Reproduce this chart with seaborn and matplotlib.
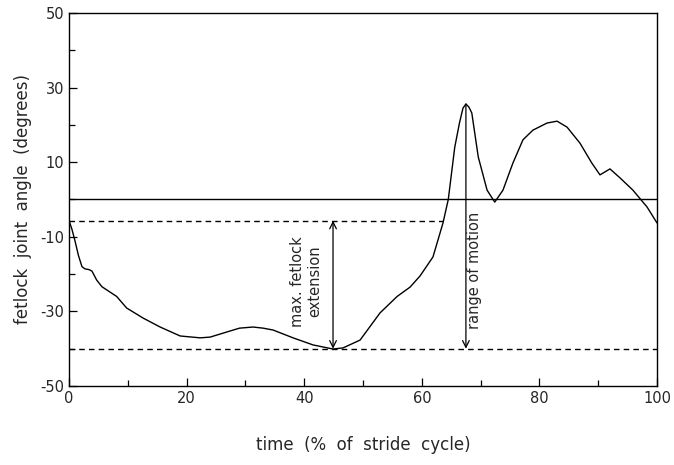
import matplotlib
matplotlib.use("Agg")
import matplotlib.pyplot as plt
import seaborn as sns
import pandas as pd
from matplotlib.ticker import MultipleLocator

# data
time_pct = [0, 0.5, 1.0, 1.6, 2.2, 2.7, 3.4, 3.9, 4.7, 5.6, 8.1, 9.8, 12.6, 15.5, 18.9,
            22.3, 24.0, 26.9, 29.0, 31.3, 33.0, 34.7, 38.1, 41.5, 44.9, 46.6, 49.5,
            52.9, 55.8, 58.0, 59.7, 61.9, 63.6, 64.5, 65.6, 66.4, 67.0, 67.5, 68.0,
            68.5, 69.6, 71.1, 72.4, 73.8, 75.5, 77.2, 78.9, 81.3, 83.0, 84.7, 86.9,
            88.9, 90.3, 92.0, 93.7, 95.9, 98.3, 100]
angle_deg = [-5.7, -8.0, -11.0, -15.0, -18.0, -18.6, -18.8, -19.2, -21.6, -23.4, -26.0,
             -29.1, -31.8, -34.2, -36.6, -37.1, -36.9, -35.5, -34.5, -34.2, -34.5, -35.0,
             -37.1, -39.0, -40.1, -39.8, -37.7, -30.4, -26.0, -23.5, -20.5, -15.4,
             -6.3, 0.0, 14.0, 20.5, 24.5, 25.6, 24.8, 23.2, 11.4, 2.5, -0.7, 2.5, 9.8,
             16.0, 18.6, 20.5, 21.0, 19.4, 15.1, 9.8, 6.6, 8.2, 5.8, 2.5, -2.0, -6.3]
max_extension_level = -5.7
min_level = -40.0
peak_time, peak_angle = 67.5, 25.6
min_time = 44.9

df = pd.DataFrame({"time": time_pct, "angle": angle_deg})

sns.set_theme(style="ticks")
plt.rcParams["font.family"] = ["DejaVu Sans"]
plt.rcParams["axes.unicode_minus"] = False

fig = plt.figure(figsize=(6.74, 4.65), dpi=100)
ax = fig.add_axes([0.1024, 0.170, 0.8724, 0.802])

sns.lineplot(data=df, x="time", y="angle", ax=ax, color="black", linewidth=1.0,
             sort=False, estimator=None)

ax.axhline(0, color="black", linewidth=1.0)
ax.plot([0, 63.6], [max_extension_level, max_extension_level], color="black",
        linewidth=1.0, linestyle=(0, (4, 3)))
ax.plot([0, 100], [min_level, min_level], color="black", linewidth=1.0,
        linestyle=(0, (4, 3)))

ax.annotate("", xy=(min_time, min_level), xytext=(min_time, max_extension_level),
            arrowprops=dict(arrowstyle="<->", color="black", lw=0.9,
                            shrinkA=0, shrinkB=0, mutation_scale=12))
ax.text(40.3, -22.0, "max. fetlock\nextension", rotation=90, ha="center",
        va="center", fontsize=10.5, linespacing=1.2)

ax.annotate("", xy=(peak_time, min_level), xytext=(peak_time, peak_angle),
            arrowprops=dict(arrowstyle="->", color="black", lw=0.9,
                            shrinkA=0, shrinkB=0, mutation_scale=12))
ax.text(69.0, -19, "range of motion", rotation=90, ha="center", va="center",
        fontsize=10.5)

ax.set_xlim(0, 100)
ax.set_ylim(-50, 50)
ax.xaxis.set_major_locator(MultipleLocator(20))
ax.xaxis.set_minor_locator(MultipleLocator(10))
ax.set_yticks([-50, -30, -10, 10, 30, 50])
ax.yaxis.set_minor_locator(MultipleLocator(10))
ax.tick_params(which="both", direction="in", color="black", labelsize=10.5,
               width=0.9)
ax.tick_params(which="major", length=6)
ax.tick_params(which="minor", length=4)
for s in ax.spines.values():
    s.set_linewidth(1.0)
    s.set_color("black")

ax.set_xlabel("time  (%  of  stride  cycle)", fontsize=12, labelpad=22)
ax.set_ylabel("fetlock  joint  angle  (degrees)", fontsize=12, labelpad=6)

fig.savefig("out.png", dpi=100, facecolor="white")
